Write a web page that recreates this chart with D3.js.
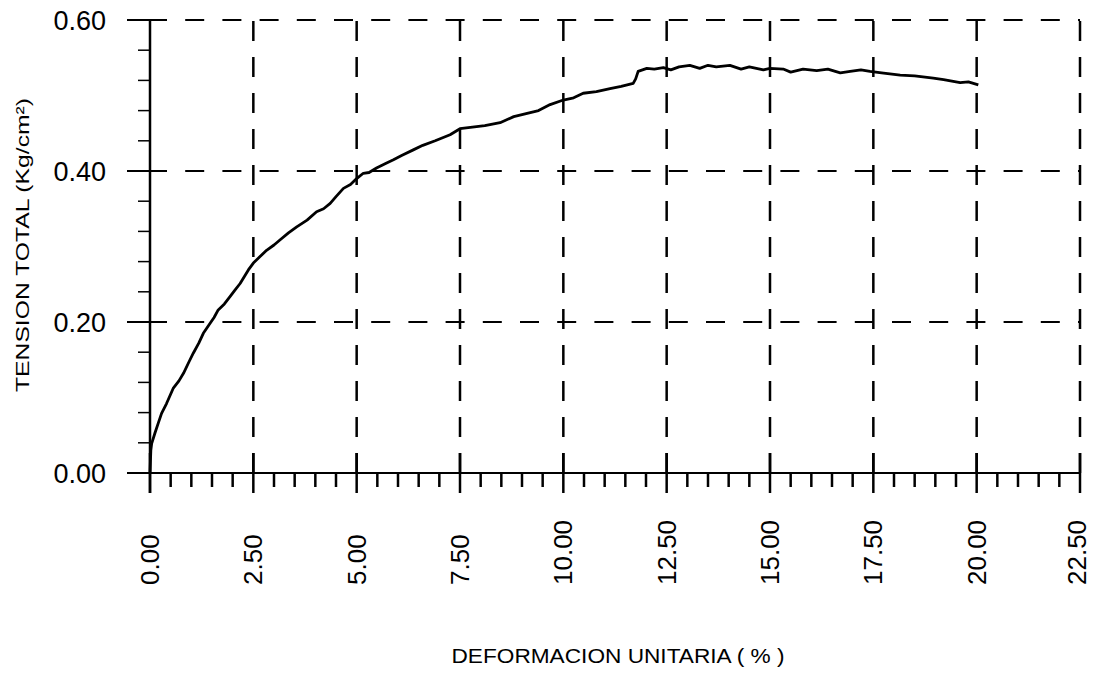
<!DOCTYPE html>
<html>
<head>
<meta charset="utf-8">
<script src="https://cdn.jsdelivr.net/npm/d3@7"></script>
<style>
  html, body { margin: 0; padding: 0; background: #fff; }
  svg { display: block; }
  text { font-family: "Liberation Sans", Arial, sans-serif; fill: #000; }
</style>
</head>
<body>
<div class="container"></div>
<script>
// deformacion unitaria (%)
const strain = [0, 0.02, 0.04, 0.12, 0.2, 0.28, 0.4, 0.56, 0.7, 0.81, 0.95, 1.05, 1.18, 1.29, 1.45, 1.55,
  1.65, 1.8, 1.94, 2.05, 2.18, 2.38, 2.5, 2.65, 2.82, 3.0, 3.15, 3.35, 3.55, 3.8, 4.03, 4.2, 4.36, 4.5,
  4.68, 4.85, 5.0, 5.16, 5.3, 5.48, 5.7, 5.89, 6.1, 6.37, 6.6, 6.9, 7.26, 7.5, 7.8, 8.1, 8.47, 8.8, 9.1,
  9.4, 9.68, 10.0, 10.25, 10.48, 10.8, 11.13, 11.4, 11.69, 11.75, 11.81, 12.02, 12.2, 12.42, 12.6, 12.8,
  13.06, 13.3, 13.5, 13.7, 14.03, 14.3, 14.5, 14.84, 15.0, 15.32, 15.5, 15.8, 16.13, 16.4, 16.7, 16.94,
  17.2, 17.42, 17.7, 18.15, 18.5, 18.95, 19.2, 19.6, 19.8, 20.04];

// tension total (Kg/cm2)
const stress = [0, 0.03, 0.039, 0.053, 0.066, 0.079, 0.092, 0.112, 0.122, 0.132, 0.148, 0.159, 0.172, 0.185,
  0.198, 0.206, 0.216, 0.224, 0.234, 0.242, 0.251, 0.269, 0.278, 0.286, 0.295, 0.302, 0.309, 0.318, 0.326,
  0.335, 0.346, 0.350, 0.357, 0.366, 0.377, 0.382, 0.390, 0.397, 0.398, 0.404, 0.410, 0.415, 0.421, 0.428,
  0.434, 0.440, 0.448, 0.456, 0.458, 0.460, 0.464, 0.472, 0.476, 0.480, 0.488, 0.494, 0.497, 0.503, 0.505,
  0.509, 0.512, 0.516, 0.522, 0.532, 0.536, 0.535, 0.537, 0.534, 0.538, 0.540, 0.536, 0.540, 0.538, 0.540,
  0.535, 0.538, 0.534, 0.536, 0.535, 0.531, 0.535, 0.533, 0.535, 0.530, 0.532, 0.534, 0.532, 0.530, 0.527,
  0.526, 0.523, 0.521, 0.517, 0.518, 0.514];

const xTicks = [0, 2.5, 5, 7.5, 10, 12.5, 15, 17.5, 20, 22.5];
const yTicks = [0, 0.2, 0.4, 0.6];
const xLabel = 'DEFORMACION  UNITARIA ( % )';
const yLabel = 'TENSION  TOTAL  (Kg/cm²)';

window.onload = () => {
  const width = 1093;
  const height = 674;

  const x = d3.scaleLinear().domain([0, 22.5]).range([150, 1080]);
  const y = d3.scaleLinear().domain([0, 0.6]).range([473, 20]);

  const svg = d3.select('.container')
    .append('svg')
    .attr('width', width)
    .attr('height', height);

  // dashed grid, horizontal
  svg.append('g')
    .selectAll('line')
    .data(yTicks.filter(d => d > 0))
    .enter()
    .append('line')
    .attr('x1', x(0) - 2)
    .attr('x2', x(22.5))
    .attr('y1', d => y(d))
    .attr('y2', d => y(d))
    .attr('stroke', '#000')
    .attr('stroke-width', 2)
    .attr('stroke-dasharray', '19,18.2');

  // dashed grid, vertical (drawn from the axis up)
  svg.append('g')
    .selectAll('line')
    .data(xTicks.filter(d => d > 0))
    .enter()
    .append('line')
    .attr('x1', d => x(d))
    .attr('x2', d => x(d))
    .attr('y1', y(0))
    .attr('y2', y(0.6))
    .attr('stroke', '#000')
    .attr('stroke-width', 2.5)
    .attr('stroke-dasharray', '20,16');

  // y axis
  const yAxis = svg.append('g');
  yAxis.append('line')
    .attr('x1', x(0)).attr('x2', x(0))
    .attr('y1', y(0.6) - 1).attr('y2', y(0) + 20)
    .attr('stroke', '#000').attr('stroke-width', 2.5);

  yAxis.selectAll('.major')
    .data(yTicks.filter(d => d > 0))
    .enter()
    .append('line')
    .attr('class', 'major')
    .attr('x1', x(0) - 23).attr('x2', x(0))
    .attr('y1', d => y(d)).attr('y2', d => y(d))
    .attr('stroke', '#000').attr('stroke-width', 2);

  yAxis.selectAll('.minor')
    .data(d3.range(0, 0.6, 0.04).filter((d, i) => i % 5 !== 0))
    .enter()
    .append('line')
    .attr('class', 'minor')
    .attr('x1', x(0) - 12).attr('x2', x(0))
    .attr('y1', d => y(d)).attr('y2', d => y(d))
    .attr('stroke', '#000').attr('stroke-width', 1.5);

  yAxis.selectAll('text')
    .data(yTicks)
    .enter()
    .append('text')
    .attr('x', 106)
    .attr('y', d => y(d))
    .attr('dy', '0.36em')
    .attr('text-anchor', 'end')
    .style('font-size', '27px')
    .text(d => d3.format('.2f')(d));

  // x axis
  const xAxis = svg.append('g');
  xAxis.append('line')
    .attr('x1', 127).attr('x2', x(22.5))
    .attr('y1', y(0)).attr('y2', y(0))
    .attr('stroke', '#000').attr('stroke-width', 2);

  xAxis.selectAll('.major')
    .data(xTicks)
    .enter()
    .append('line')
    .attr('class', 'major')
    .attr('x1', d => x(d)).attr('x2', d => x(d))
    .attr('y1', y(0) - 20).attr('y2', y(0) + 20)
    .attr('stroke', '#000').attr('stroke-width', 2.5);

  xAxis.selectAll('.minor')
    .data(d3.range(0, 22.5, 0.5).filter((d, i) => i % 5 !== 0))
    .enter()
    .append('line')
    .attr('class', 'minor')
    .attr('x1', d => x(d)).attr('x2', d => x(d))
    .attr('y1', y(0)).attr('y2', y(0) + 14)
    .attr('stroke', '#000').attr('stroke-width', 2.5);

  // last label sits at the page edge, nudge it in a little
  xAxis.selectAll('text')
    .data(xTicks)
    .enter()
    .append('text')
    .attr('transform', d => `translate(${Math.min(x(d), width - 16)}, 585) rotate(-90)`)
    .attr('dy', '0.35em')
    .attr('text-anchor', 'start')
    .style('font-size', '26px')
    .text(d => d3.format('.2f')(d));

  // axis titles
  svg.append('text')
    .attr('x', 618)
    .attr('y', 663)
    .attr('text-anchor', 'middle')
    .attr('textLength', 333)
    .attr('lengthAdjust', 'spacingAndGlyphs')
    .style('font-size', '20px')
    .text(xLabel);

  svg.append('text')
    .attr('transform', 'translate(29, 245) rotate(-90)')
    .attr('text-anchor', 'middle')
    .attr('textLength', 294)
    .attr('lengthAdjust', 'spacingAndGlyphs')
    .style('font-size', '19px')
    .text(yLabel);

  // curve
  const line = d3.line()
    .x((d, i) => x(strain[i]))
    .y(d => y(d));

  svg.append('path')
    .datum(stress)
    .attr('d', line)
    .attr('fill', 'none')
    .attr('stroke', '#000')
    .attr('stroke-width', 2.8)
    .attr('stroke-linejoin', 'round');
};
</script>
</body>
</html>
